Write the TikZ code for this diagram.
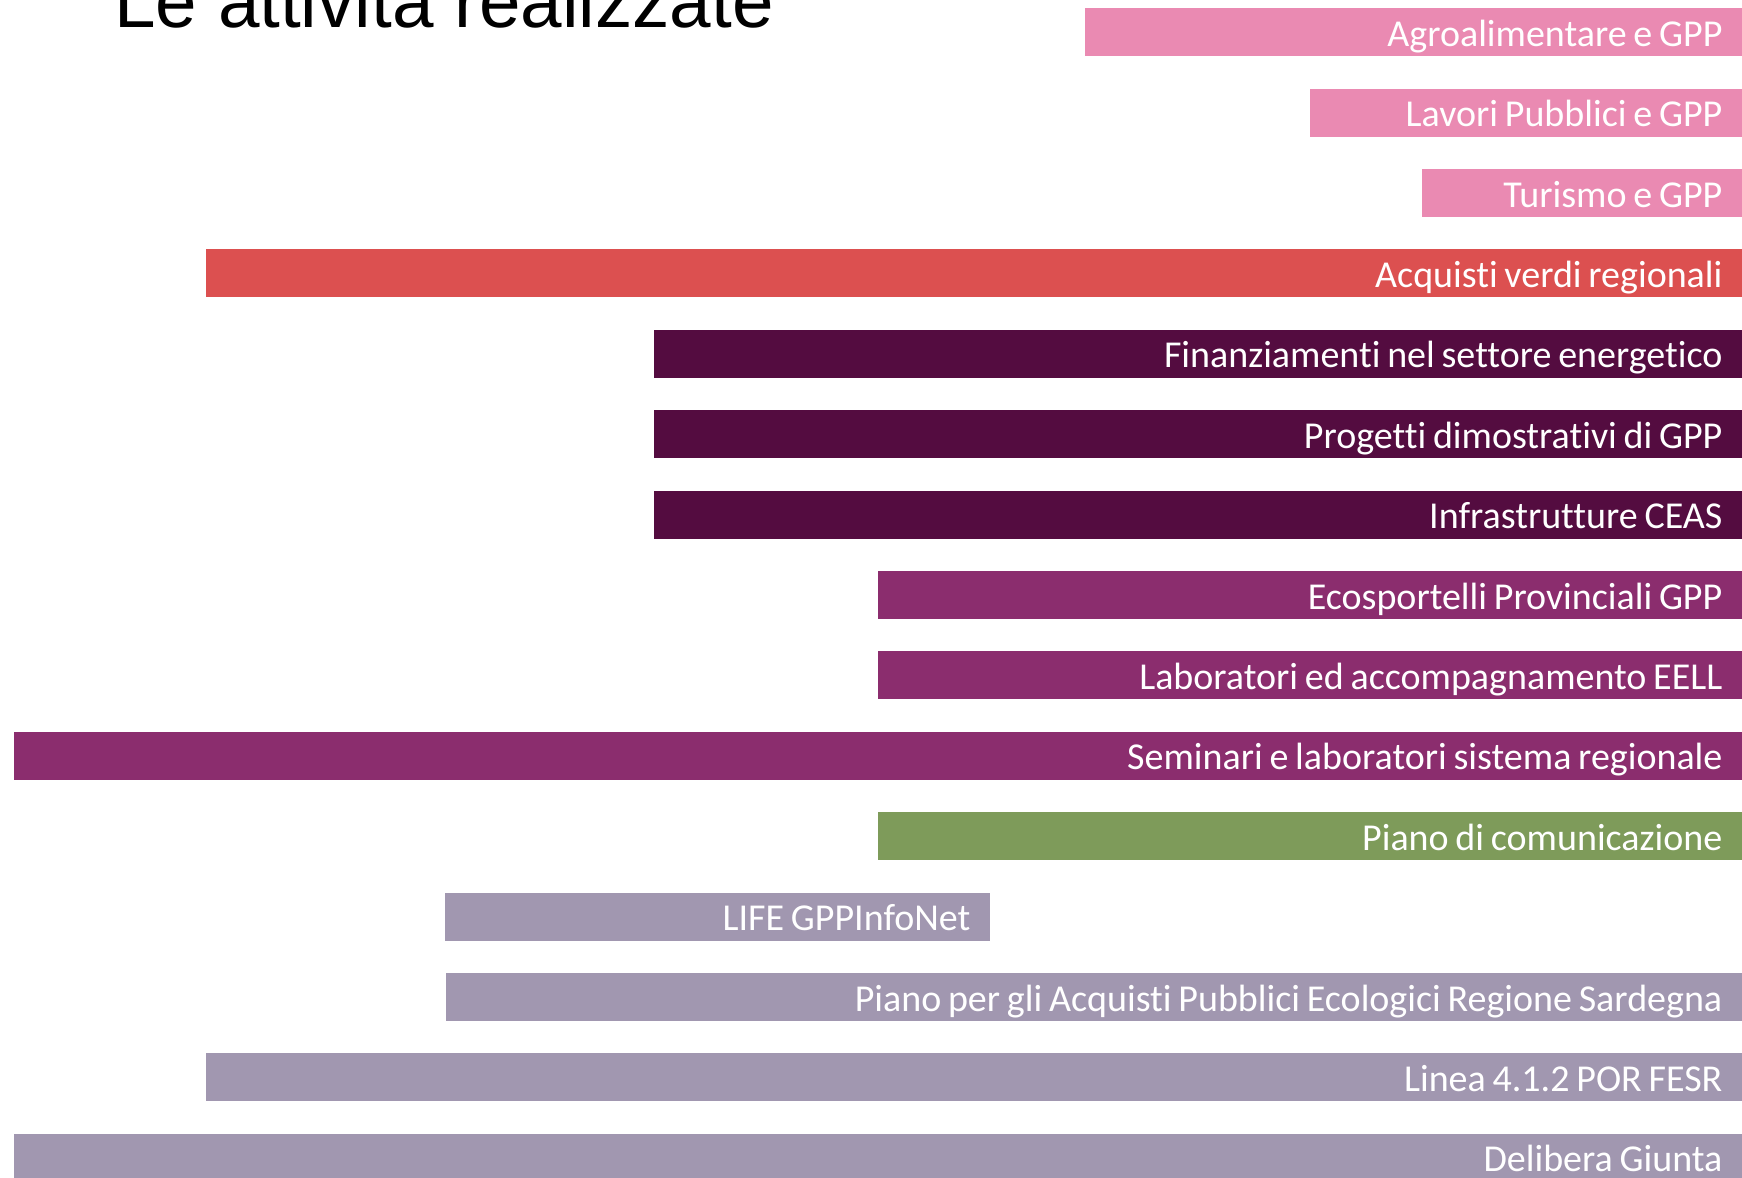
\documentclass[tikz,border=0pt]{standalone}
\usepackage{fontspec}
\setmainfont{Carlito}[RawFeature=-liga]
\newfontfamily\titlefont{Liberation Sans}
\usetikzlibrary{positioning}
\definecolor{gpppink}{RGB}{234,138,178}
\definecolor{gppred}{RGB}{220,80,80}
\definecolor{gppdark}{RGB}{84,12,64}
\definecolor{gppplum}{RGB}{139,45,110}
\definecolor{gppgreen}{RGB}{126,155,90}
\definecolor{gppgrey}{RGB}{161,151,176}

\begin{document}
\begin{tikzpicture}[x=0.5pt, y=-0.5pt,
    bar/.style={anchor=north west, minimum height=24pt, inner ysep=0pt, inner xsep=10pt,
      text height=15pt, text depth=1pt,
      align=right, text=white, font=\fontsize{19}{20}\selectfont,
      execute at begin node={\spaceskip=3.4pt\relax}}]
    \clip (0,0) rectangle (1742,1178);
    \fill[white] (0,0) rectangle (1742,1178);
    \node[anchor=base west, inner sep=0pt, font=\titlefont\fontsize{37.3}{40}\selectfont] (title) at (114,27) {Le attività realizzate};
    \foreach \xl/\xr/\col/\txt [count=\i from 0] in {
        1085/1742/gpppink/Agroalimentare e GPP,
        1310/1742/gpppink/Lavori Pubblici e GPP,
        1422/1742/gpppink/Turismo e GPP,
        206/1742/gppred/Acquisti verdi regionali,
        654/1742/gppdark/Finanziamenti nel settore energetico,
        654/1742/gppdark/Progetti dimostrativi di GPP,
        654/1742/gppdark/Infrastrutture CEAS,
        878/1742/gppplum/Ecosportelli Provinciali GPP,
        878/1742/gppplum/Laboratori ed accompagnamento EELL,
        14/1742/gppplum/Seminari e laboratori sistema regionale,
        878/1742/gppgreen/Piano di comunicazione,
        445/990/gppgrey/LIFE GPPInfoNet,
        446/1742/gppgrey/Piano per gli Acquisti Pubblici Ecologici Regione Sardegna,
        206/1742/gppgrey/Linea 4.1.2 POR FESR,
        14/1742/gppgrey/Delibera Giunta} {
        \pgfmathsetmacro{\w}{(\xr-\xl)*0.5}
        \pgfmathsetmacro{\tw}{\w-20}
        \node[bar, fill=\col, minimum width=\w pt, text width=\tw pt] (bar\i) at (\xl, 7.8+80.4*\i) {\txt};
    }
\end{tikzpicture}
\end{document}
